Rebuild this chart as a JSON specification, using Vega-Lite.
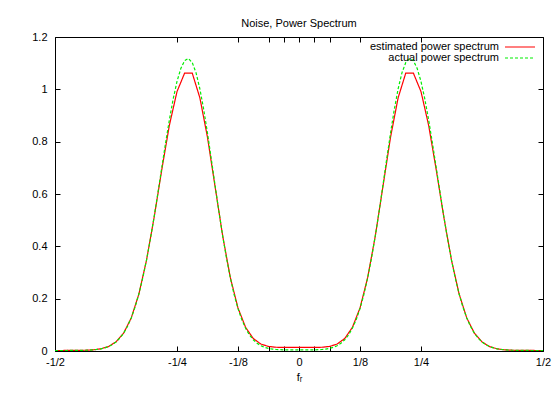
{
  "$schema": "https://vega.github.io/schema/vega-lite/v6.json",
  "width": 488,
  "height": 314,
  "autosize": {"type": "none"},
  "padding": {"left": 55, "top": 37, "right": 15, "bottom": 43},
  "background": "#ffffff",
  "title": {"text": "Noise, Power Spectrum", "fontSize": 11, "fontWeight": "normal", "font": "Liberation Sans", "color": "#000000", "offset": 2, "anchor": "middle"},
  "config": {
    "view": {"stroke": "#000000", "strokeWidth": 1},
    "axis": {"domain": false, "grid": false, "tickColor": "#000000", "tickSize": -5, "tickWidth": 1, "labelFont": "Liberation Sans", "labelFontSize": 11, "labelColor": "#000000", "titleFont": "Liberation Sans", "titleFontSize": 11, "titleFontWeight": "normal", "titleColor": "#000000", "labelOverlap": false, "labelFlush": false},
    "legend": {"orient": "none", "legendX": 459, "legendY": 4, "title": null, "symbolType": "M-3,0H3", "symbolSize": 100, "symbolStrokeWidth": 1.2, "labelAlign": "right", "labelOffset": -27, "labelFont": "Liberation Sans", "labelFontSize": 11, "labelColor": "#000000", "rowPadding": -1}
  },
  "datasets": {
    "est": [
      {"f": -0.5, "v": 0.002}, {"f": -0.484375, "v": 0.002}, {"f": -0.46875, "v": 0.0021}, {"f": -0.453125, "v": 0.0024}, {"f": -0.4375, "v": 0.0029}, {"f": -0.421875, "v": 0.0044}, {"f": -0.40625, "v": 0.0082}, {"f": -0.390625, "v": 0.0169}, {"f": -0.375, "v": 0.0347}, {"f": -0.359375, "v": 0.0683}, {"f": -0.34375, "v": 0.1264}, {"f": -0.328125, "v": 0.2177}, {"f": -0.3125, "v": 0.3469}, {"f": -0.296875, "v": 0.5105}, {"f": -0.28125, "v": 0.692}, {"f": -0.265625, "v": 0.8626}, {"f": -0.25, "v": 0.9914}, {"f": -0.234375, "v": 1.062}, {"f": -0.21875, "v": 1.062}, {"f": -0.203125, "v": 0.9675}, {"f": -0.1875, "v": 0.8162}, {"f": -0.171875, "v": 0.627}, {"f": -0.15625, "v": 0.4383}, {"f": -0.140625, "v": 0.28}, {"f": -0.125, "v": 0.1644}, {"f": -0.109375, "v": 0.0902}, {"f": -0.09375, "v": 0.0478}, {"f": -0.078125, "v": 0.0265}, {"f": -0.0625, "v": 0.0174}, {"f": -0.046875, "v": 0.0143}, {"f": -0.03125, "v": 0.0138}, {"f": -0.015625, "v": 0.014}, {"f": 0, "v": 0.014},
      {"f": 0.015625, "v": 0.014}, {"f": 0.03125, "v": 0.0138}, {"f": 0.046875, "v": 0.0143}, {"f": 0.0625, "v": 0.0174}, {"f": 0.078125, "v": 0.0265}, {"f": 0.09375, "v": 0.0478}, {"f": 0.109375, "v": 0.0902}, {"f": 0.125, "v": 0.1644}, {"f": 0.140625, "v": 0.28}, {"f": 0.15625, "v": 0.4383}, {"f": 0.171875, "v": 0.627}, {"f": 0.1875, "v": 0.8162}, {"f": 0.203125, "v": 0.9675}, {"f": 0.21875, "v": 1.062}, {"f": 0.234375, "v": 1.062}, {"f": 0.25, "v": 0.9914}, {"f": 0.265625, "v": 0.8626}, {"f": 0.28125, "v": 0.692}, {"f": 0.296875, "v": 0.5105}, {"f": 0.3125, "v": 0.3469}, {"f": 0.328125, "v": 0.2177}, {"f": 0.34375, "v": 0.1264}, {"f": 0.359375, "v": 0.0683}, {"f": 0.375, "v": 0.0347}, {"f": 0.390625, "v": 0.0169}, {"f": 0.40625, "v": 0.0082}, {"f": 0.421875, "v": 0.0044}, {"f": 0.4375, "v": 0.0029}, {"f": 0.453125, "v": 0.0024}, {"f": 0.46875, "v": 0.0021}, {"f": 0.484375, "v": 0.002}, {"f": 0.5, "v": 0.002}
    ],
    "act": [
      {"f": -0.5, "v": 0.002}, {"f": -0.4921875, "v": 0.002}, {"f": -0.484375, "v": 0.002}, {"f": -0.4765625, "v": 0.002}, {"f": -0.46875, "v": 0.0021}, {"f": -0.4609375, "v": 0.0022}, {"f": -0.453125, "v": 0.0023}, {"f": -0.4453125, "v": 0.0025}, {"f": -0.4375, "v": 0.0029}, {"f": -0.4296875, "v": 0.0035}, {"f": -0.421875, "v": 0.0044}, {"f": -0.4140625, "v": 0.0059}, {"f": -0.40625, "v": 0.0082}, {"f": -0.3984375, "v": 0.0117}, {"f": -0.390625, "v": 0.0169}, {"f": -0.3828125, "v": 0.0242}, {"f": -0.375, "v": 0.0347}, {"f": -0.3671875, "v": 0.049}, {"f": -0.359375, "v": 0.0683}, {"f": -0.3515625, "v": 0.0938}, {"f": -0.34375, "v": 0.1264}, {"f": -0.3359375, "v": 0.1675}, {"f": -0.328125, "v": 0.2177}, {"f": -0.3203125, "v": 0.2777}, {"f": -0.3125, "v": 0.3474}, {"f": -0.3046875, "v": 0.4263}, {"f": -0.296875, "v": 0.5129}, {"f": -0.2890625, "v": 0.6052}, {"f": -0.28125, "v": 0.7002}, {"f": -0.2734375, "v": 0.7944}, {"f": -0.265625, "v": 0.8835}, {"f": -0.2578125, "v": 0.9633}, {"f": -0.25, "v": 1.03}, {"f": -0.2421875, "v": 1.0796}, {"f": -0.234375, "v": 1.1095}, {"f": -0.2265625, "v": 1.1178}, {"f": -0.21875, "v": 1.1023}, {"f": -0.2109375, "v": 1.0629}, {"f": -0.203125, "v": 1.0018}, {"f": -0.1953125, "v": 0.9234}, {"f": -0.1875, "v": 0.8322}, {"f": -0.1796875, "v": 0.7333}, {"f": -0.171875, "v": 0.6318}, {"f": -0.1640625, "v": 0.5323}, {"f": -0.15625, "v": 0.4385}, {"f": -0.1484375, "v": 0.3533}, {"f": -0.140625, "v": 0.2785}, {"f": -0.1328125, "v": 0.2146}, {"f": -0.125, "v": 0.1619}, {"f": -0.1171875, "v": 0.1196}, {"f": -0.109375, "v": 0.0866}, {"f": -0.1015625, "v": 0.0614}, {"f": -0.09375, "v": 0.0429}, {"f": -0.0859375, "v": 0.0296}, {"f": -0.078125, "v": 0.0203}, {"f": -0.0703125, "v": 0.0141}, {"f": -0.0625, "v": 0.01}, {"f": -0.0546875, "v": 0.0074}, {"f": -0.046875, "v": 0.0058}, {"f": -0.0390625, "v": 0.005}, {"f": -0.03125, "v": 0.0045}, {"f": -0.0234375, "v": 0.0043}, {"f": -0.015625, "v": 0.004}, {"f": -0.0078125, "v": 0.004}, {"f": 0, "v": 0.004},
      {"f": 0.0078125, "v": 0.004}, {"f": 0.015625, "v": 0.004}, {"f": 0.0234375, "v": 0.0043}, {"f": 0.03125, "v": 0.0045}, {"f": 0.0390625, "v": 0.005}, {"f": 0.046875, "v": 0.0058}, {"f": 0.0546875, "v": 0.0074}, {"f": 0.0625, "v": 0.01}, {"f": 0.0703125, "v": 0.0141}, {"f": 0.078125, "v": 0.0203}, {"f": 0.0859375, "v": 0.0296}, {"f": 0.09375, "v": 0.0429}, {"f": 0.1015625, "v": 0.0614}, {"f": 0.109375, "v": 0.0866}, {"f": 0.1171875, "v": 0.1196}, {"f": 0.125, "v": 0.1619}, {"f": 0.1328125, "v": 0.2146}, {"f": 0.140625, "v": 0.2785}, {"f": 0.1484375, "v": 0.3533}, {"f": 0.15625, "v": 0.4385}, {"f": 0.1640625, "v": 0.5323}, {"f": 0.171875, "v": 0.6318}, {"f": 0.1796875, "v": 0.7333}, {"f": 0.1875, "v": 0.8322}, {"f": 0.1953125, "v": 0.9234}, {"f": 0.203125, "v": 1.0018}, {"f": 0.2109375, "v": 1.0629}, {"f": 0.21875, "v": 1.1023}, {"f": 0.2265625, "v": 1.1178}, {"f": 0.234375, "v": 1.1095}, {"f": 0.2421875, "v": 1.0796}, {"f": 0.25, "v": 1.03}, {"f": 0.2578125, "v": 0.9633}, {"f": 0.265625, "v": 0.8835}, {"f": 0.2734375, "v": 0.7944}, {"f": 0.28125, "v": 0.7002}, {"f": 0.2890625, "v": 0.6052}, {"f": 0.296875, "v": 0.5129}, {"f": 0.3046875, "v": 0.4263}, {"f": 0.3125, "v": 0.3474}, {"f": 0.3203125, "v": 0.2777}, {"f": 0.328125, "v": 0.2177}, {"f": 0.3359375, "v": 0.1675}, {"f": 0.34375, "v": 0.1264}, {"f": 0.3515625, "v": 0.0938}, {"f": 0.359375, "v": 0.0683}, {"f": 0.3671875, "v": 0.049}, {"f": 0.375, "v": 0.0347}, {"f": 0.3828125, "v": 0.0242}, {"f": 0.390625, "v": 0.0169}, {"f": 0.3984375, "v": 0.0117}, {"f": 0.40625, "v": 0.0082}, {"f": 0.4140625, "v": 0.0059}, {"f": 0.421875, "v": 0.0044}, {"f": 0.4296875, "v": 0.0035}, {"f": 0.4375, "v": 0.0029}, {"f": 0.4453125, "v": 0.0025}, {"f": 0.453125, "v": 0.0023}, {"f": 0.4609375, "v": 0.0022}, {"f": 0.46875, "v": 0.0021}, {"f": 0.4765625, "v": 0.002}, {"f": 0.484375, "v": 0.002}, {"f": 0.4921875, "v": 0.002}, {"f": 0.5, "v": 0.002}
    ]
  },
  "resolve": {"axis": {"x": "independent", "y": "independent"}},
  "layer": [
    {
      "data": {"name": "est"},
      "mark": {"type": "line", "strokeWidth": 1.2, "clip": true},
      "encoding": {
        "x": {"field": "f", "type": "quantitative", "scale": {"domain": [-0.5, 0.5], "nice": false, "zero": false},
          "axis": {"orient": "bottom", "values": [-0.5, -0.25, -0.125, -0.0625, -0.03125, 0, 0.03125, 0.0625, 0.125, 0.25, 0.5],
            "labelExpr": "datum.value == -0.5 ? '-1/2' : datum.value == -0.25 ? '-1/4' : datum.value == -0.125 ? '-1/8' : datum.value == 0 ? '0' : datum.value == 0.125 ? '1/8' : datum.value == 0.25 ? '1/4' : datum.value == 0.5 ? '1/2' : ''",
            "labelPadding": 10, "title": "fᵣ", "titlePadding": 4}},
        "y": {"field": "v", "type": "quantitative", "scale": {"domain": [0, 1.2], "nice": false},
          "axis": {"orient": "left", "values": [0, 0.2, 0.4, 0.6, 0.8, 1, 1.2], "format": "~g", "labelPadding": 13, "title": null}},
        "color": {"datum": "estimated power spectrum", "type": "nominal", "scale": {"domain": ["estimated power spectrum", "actual power spectrum"], "range": ["#ff0000", "#00ee00"]}},
        "strokeDash": {"datum": "estimated power spectrum", "type": "nominal", "scale": {"domain": ["estimated power spectrum", "actual power spectrum"], "range": [[1, 0], [3, 2]]}}
      }
    },
    {
      "data": {"name": "act"},
      "mark": {"type": "line", "strokeWidth": 1.2, "clip": true},
      "encoding": {
        "x": {"field": "f", "type": "quantitative",
          "axis": {"orient": "top", "values": [-0.5, -0.25, -0.125, -0.0625, -0.03125, 0, 0.03125, 0.0625, 0.125, 0.25, 0.5], "labels": false, "title": null}},
        "y": {"field": "v", "type": "quantitative",
          "axis": {"orient": "right", "values": [0, 0.2, 0.4, 0.6, 0.8, 1, 1.2], "labels": false, "title": null}},
        "color": {"datum": "actual power spectrum", "type": "nominal"},
        "strokeDash": {"datum": "actual power spectrum", "type": "nominal"}
      }
    }
  ]
}
